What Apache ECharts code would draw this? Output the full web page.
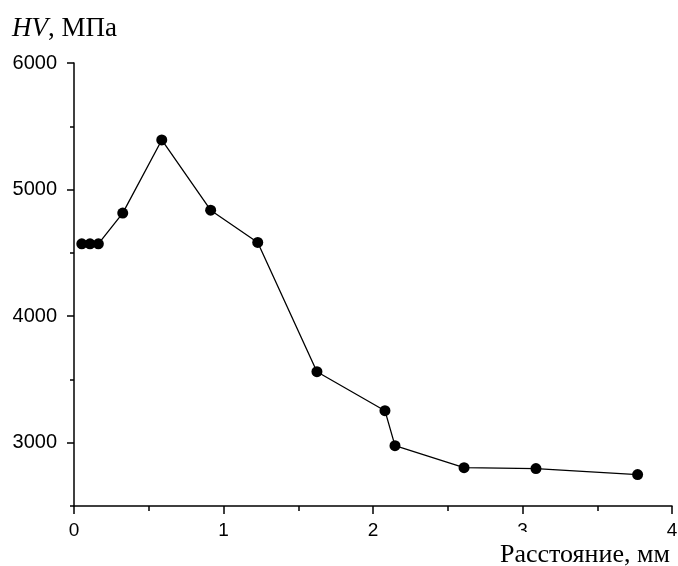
<!DOCTYPE html>
<html>
<head>
<meta charset="utf-8">
<script src="https://cdn.jsdelivr.net/npm/echarts@6/dist/echarts.min.js"></script>
<style>html,body{margin:0;padding:0;background:#fff}#c{width:678px;height:566px}</style>
</head>
<body>
<div id="c"></div>
<script>
var distance = [0.052, 0.107, 0.163, 0.326, 0.587, 0.914, 1.229, 1.625, 2.08, 2.147, 2.609, 3.09, 3.77];
var hardness = [4571, 4571, 4571, 4814, 5392, 4837, 4582, 3561, 3253, 2977, 2803, 2796, 2748];
var yMajorTicks = [3000, 4000, 5000, 6000];
var yMinorTicks = [2500, 3500, 4500, 5500];
var yTitle = 'HV';
var yUnit = ', МПа';
var xTitle = 'Расстояние, мм';

var chart = echarts.init(document.getElementById('c'), null, {renderer: 'canvas'});
var axisColor = '#000';
var points = distance.map(function (d, i) { return [d, hardness[i]]; });

chart.setOption({
  animation: false,
  backgroundColor: '#fff',
  grid: {left: 74, right: 6, top: 63, bottom: 60, containLabel: false, outerBoundsMode: 'none'},
  xAxis: {
    type: 'value', min: 0, max: 4, interval: 1,
    axisLine: {show: true, onZero: false, lineStyle: {color: axisColor, width: 1.5}},
    axisTick: {show: true, inside: false, length: 8, lineStyle: {color: axisColor, width: 1.5}},
    minorTick: {show: true, splitNumber: 2, length: 5, lineStyle: {color: axisColor, width: 1.5}},
    axisLabel: {fontFamily: 'Liberation Sans', fontSize: 19, color: '#000', margin: 15,
      formatter: function (v) { return String(v); }},
    splitLine: {show: false}
  },
  yAxis: [{
    type: 'value', min: 2500, max: 6000,
    axisLine: {show: true, onZero: false, lineStyle: {color: axisColor, width: 1.5}},
    axisTick: {show: true, inside: false, length: 7, customValues: yMajorTicks, lineStyle: {color: axisColor, width: 1.5}},
    axisLabel: {fontFamily: 'Liberation Sans', fontSize: 20, color: '#000', margin: 17, customValues: yMajorTicks,
      formatter: function (v) { return String(v); }},
    splitLine: {show: false}
  }, {
    type: 'value', min: 2500, max: 6000, position: 'left',
    axisLine: {show: false},
    axisTick: {show: true, inside: false, length: 4, customValues: yMinorTicks, lineStyle: {color: axisColor, width: 1.5}},
    axisLabel: {show: false},
    splitLine: {show: false}
  }],
  series: [{
    type: 'line',
    data: points,
    yAxisIndex: 0,
    symbol: 'circle',
    symbolSize: 11,
    lineStyle: {color: '#000', width: 1.3},
    itemStyle: {color: '#000'},
    z: 5
  }],
  graphic: [{
    type: 'text', left: 12, top: 15, z: 100,
    style: {
      text: '{i|' + yTitle + '}{n|' + yUnit + '}',
      rich: {
        i: {fontFamily: 'Liberation Serif', fontStyle: 'italic', fontSize: 27, fill: '#000'},
        n: {fontFamily: 'Liberation Serif', fontSize: 27, fill: '#000'}
      }
    }
  }, {
    type: 'rect', left: 497, top: 532, z: 99,
    shape: {width: 142, height: 34},
    style: {fill: '#fff'}
  }, {
    type: 'text', left: 500, top: 542, z: 100,
    style: {
      text: xTitle,
      font: '26px "Liberation Serif"',
      fill: '#000'
    }
  }]
});
</script>
</body>
</html>
